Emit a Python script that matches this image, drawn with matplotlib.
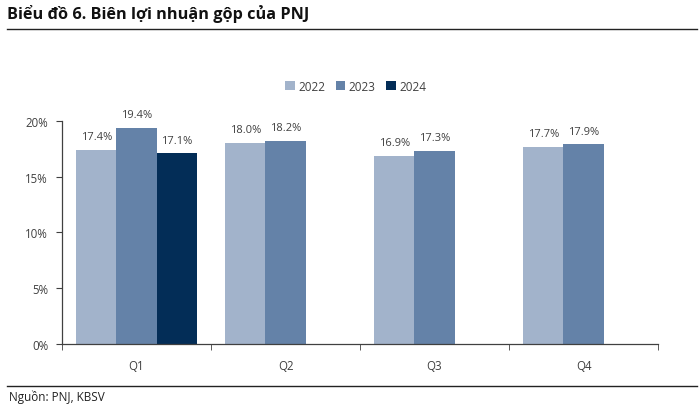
import numpy as np
import matplotlib.pyplot as plt

plt.rcParams['font.family'] = ['Open Sans', 'DejaVu Sans']

quarters = ['Q1', 'Q2', 'Q3', 'Q4']
years = ['2022', '2023', '2024']
margin_2022 = [17.4, 18.0, 16.9, 17.7]
margin_2023 = [19.4, 18.2, 17.3, 17.9]
margin_2024 = [17.1]
colors = ['#A2B3CB', '#6482A8', '#032D57']

fig = plt.figure(figsize=(7, 4.14), dpi=100)
ax = fig.add_axes([0.0886, 0.1667, 0.8514, 0.5386])

x = np.arange(len(quarters))
w = 0.27
series = [margin_2022, margin_2023, margin_2024]
for k, (vals, yr, c) in enumerate(zip(series, years, colors)):
    xs = x[:len(vals)] + (k - 1) * w
    bars = ax.bar(xs, vals, width=w, color=c, label=yr, zorder=2)
    for b, v in zip(bars, vals):
        ax.text(b.get_x() + b.get_width() / 2, v + 0.7, f'{v:.1f}%',
                ha='center', va='bottom', fontsize=8, color='#404040', clip_on=False)

ax.set_xlim(-0.5, 3.5)
ax.set_ylim(0, 20)
ax.set_yticks([0, 5, 10, 15, 20])
ax.set_yticklabels([f'{t}%' for t in [0, 5, 10, 15, 20]])
ax.set_xticks(x)
ax.set_xticklabels(quarters)
ax.set_xticks(np.arange(-0.5, 4.0, 1), minor=True)
ax.tick_params(axis='x', which='major', length=0, pad=11)
ax.tick_params(axis='x', which='minor', length=4, color='#404040', direction='out')
ax.tick_params(axis='y', length=4, color='#404040', pad=6)
ax.tick_params(labelsize=8.3, labelcolor='#404040')
for s in ['top', 'right']:
    ax.spines[s].set_visible(False)
for s in ['left', 'bottom']:
    ax.spines[s].set_color('#404040')
    ax.spines[s].set_linewidth(0.9)

ax.legend(loc='lower center', bbox_to_anchor=(0.493, 1.08), ncol=3, frameon=False,
          fontsize=8.5, handlelength=0.8, handleheight=0.8, handletextpad=0.3,
          columnspacing=0.9, labelcolor='#404040')

fig.text(0.01, 0.965, 'Biểu đồ 6. Biên lợi nhuận gộp của PNJ', fontsize=11.7,
         fontweight='bold', va='center', ha='left', color='#111111')
fig.add_artist(plt.Line2D([0.01, 0.995], [0.928, 0.928], color='#222222', lw=1))
fig.add_artist(plt.Line2D([0.01, 0.995], [0.066, 0.066], color='#222222', lw=1))
fig.text(0.013, 0.04, 'Nguồn: PNJ, KBSV', fontsize=8.5, va='center', ha='left', color='#222222')

fig.savefig('out.png', dpi=100)
